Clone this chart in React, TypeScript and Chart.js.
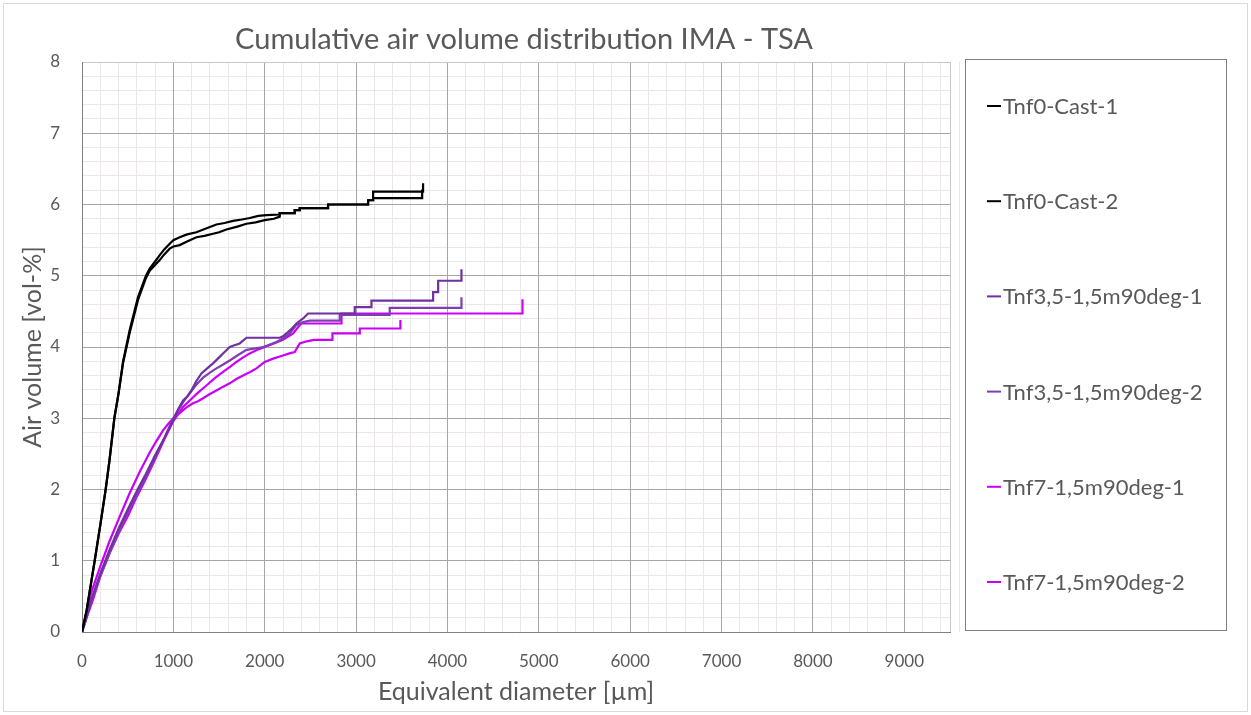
import React, { useEffect, useRef } from 'react';
import { Chart, registerables } from 'chart.js';

Chart.register(...registerables);

const FONT = 'Lato, "Open Sans", sans-serif';
const TEXT = '#595959';

const chartTitle = 'Cumulative air volume distribution IMA - TSA';
const xTitle = 'Equivalent diameter [µm]';
const yTitle = 'Air volume [vol-%]';

const seriesNames = [
  'Tnf0-Cast-1',
  'Tnf0-Cast-2',
  'Tnf3,5-1,5m90deg-1',
  'Tnf3,5-1,5m90deg-2',
  'Tnf7-1,5m90deg-1',
  'Tnf7-1,5m90deg-2',
];
const seriesColors = ['#000000', '#000000', '#7030A0', '#7E3FB0', '#CC00FF', '#C800F8'];

const cast1X = [0, 50, 139, 200, 259, 300, 354, 400, 450, 522, 613, 700, 741, 800, 851, 900, 960, 1000, 1069, 1150, 1252, 1350, 1471, 1560, 1653, 1750, 1836, 1930, 2018, 2164, 2164, 2328, 2328, 2383, 2383, 2693, 2693, 3131, 3131, 3186, 3186, 3733, 3733];
const cast1Y = [0, 0.3, 1.0, 1.5, 2.0, 2.4, 3.0, 3.35, 3.8, 4.24, 4.7, 5.0, 5.1, 5.2, 5.29, 5.37, 5.45, 5.5, 5.54, 5.58, 5.61, 5.66, 5.72, 5.74, 5.77, 5.79, 5.81, 5.84, 5.85, 5.86, 5.88, 5.88, 5.92, 5.92, 5.95, 5.95, 6.0, 6.0, 6.06, 6.06, 6.18, 6.18, 6.3];

const cast2X = [0, 50, 139, 200, 259, 300, 354, 400, 450, 522, 613, 700, 741, 800, 851, 900, 960, 1000, 1069, 1150, 1252, 1340, 1434, 1500, 1580, 1700, 1800, 1900, 2000, 2100, 2164, 2164, 2328, 2328, 2383, 2383, 2693, 2693, 3131, 3131, 3186, 3186, 3723, 3723];
const cast2Y = [0, 0.3, 1.0, 1.5, 2.0, 2.4, 3.0, 3.35, 3.78, 4.2, 4.66, 4.97, 5.07, 5.15, 5.22, 5.3, 5.38, 5.41, 5.43, 5.48, 5.54, 5.56, 5.59, 5.61, 5.65, 5.69, 5.73, 5.75, 5.78, 5.8, 5.83, 5.88, 5.88, 5.92, 5.92, 5.95, 5.95, 6.0, 6.0, 6.06, 6.06, 6.09, 6.09, 6.21];

const tnf35aX = [0, 50, 100, 200, 300, 400, 500, 600, 700, 800, 900, 1000, 1050, 1106, 1150, 1197, 1250, 1307, 1370, 1434, 1490, 1544, 1617, 1660, 1726, 1800, 2164, 2200, 2237, 2290, 2347, 2420, 2474, 2985, 2985, 3168, 3168, 3843, 3843, 3898, 3898, 4153, 4153];
const tnf35aY = [0, 0.22, 0.45, 0.82, 1.15, 1.45, 1.72, 1.98, 2.22, 2.48, 2.72, 2.98, 3.12, 3.25, 3.3, 3.39, 3.52, 3.63, 3.7, 3.77, 3.84, 3.91, 4.0, 4.02, 4.05, 4.13, 4.13, 4.15, 4.19, 4.25, 4.33, 4.4, 4.47, 4.47, 4.56, 4.56, 4.65, 4.65, 4.77, 4.77, 4.93, 4.93, 5.09];

const tnf35bX = [0, 50, 100, 200, 300, 400, 500, 600, 700, 800, 900, 1000, 1069, 1120, 1179, 1250, 1325, 1400, 1471, 1540, 1617, 1700, 1800, 1900, 1982, 2050, 2128, 2200, 2274, 2347, 2420, 2493, 2821, 2821, 3368, 3368, 4153, 4153];
const tnf35bY = [0, 0.2, 0.42, 0.78, 1.1, 1.4, 1.68, 1.93, 2.18, 2.45, 2.72, 3.0, 3.15, 3.25, 3.35, 3.47, 3.57, 3.64, 3.7, 3.75, 3.81, 3.88, 3.96, 3.98, 4.0, 4.03, 4.07, 4.12, 4.19, 4.31, 4.35, 4.37, 4.37, 4.45, 4.45, 4.55, 4.55, 4.7];

const tnf7aX = [0, 50, 120, 200, 300, 400, 500, 600, 700, 800, 900, 1000, 1100, 1179, 1270, 1362, 1450, 1544, 1620, 1690, 1760, 1836, 1920, 2000, 2100, 2200, 2311, 2360, 2401, 2840, 2840, 4821, 4821];
const tnf7aY = [0, 0.2, 0.45, 0.78, 1.1, 1.38, 1.62, 1.9, 2.15, 2.42, 2.7, 2.96, 3.15, 3.25, 3.36, 3.46, 3.56, 3.65, 3.72, 3.79, 3.85, 3.91, 3.96, 4.0, 4.05, 4.1, 4.19, 4.27, 4.33, 4.33, 4.47, 4.47, 4.67];

const tnf7bX = [0, 40, 100, 200, 300, 400, 522, 632, 741, 814, 887, 950, 1015, 1069, 1140, 1215, 1270, 1325, 1400, 1471, 1540, 1617, 1690, 1763, 1840, 1909, 2000, 2100, 2200, 2270, 2328, 2383, 2460, 2540, 2741, 2741, 3040, 3040, 3485, 3485];
const tnf7bY = [0, 0.22, 0.55, 0.92, 1.27, 1.58, 1.95, 2.25, 2.52, 2.68, 2.83, 2.93, 3.02, 3.07, 3.15, 3.21, 3.24, 3.28, 3.34, 3.39, 3.44, 3.49, 3.55, 3.6, 3.65, 3.7, 3.79, 3.84, 3.88, 3.91, 3.93, 4.05, 4.08, 4.1, 4.1, 4.19, 4.19, 4.26, 4.26, 4.38];

const seriesX = [cast1X, cast2X, tnf35aX, tnf35bX, tnf7aX, tnf7bX];
const seriesY = [cast1Y, cast2Y, tnf35aY, tnf35bY, tnf7aY, tnf7bY];

const xTickValues = [0, 1000, 2000, 3000, 4000, 5000, 6000, 7000, 8000, 9000];
const yTickValues = [0, 1, 2, 3, 4, 5, 6, 7, 8];
const xMin = 0;
const xMax = 9500;
const yMin = 0;
const yMax = 8;
const xMinorStep = 200;
const yMinorStep = 0.2;

const W = 1251;
const H = 715;

function minorTicks(min: number, max: number, step: number) {
  const out: { value: number }[] = [];
  const n = Math.round((max - min) / step);
  for (let i = 0; i <= n; i++) out.push({ value: +(min + i * step).toFixed(6) });
  return out;
}

const decorPlugin = {
  id: 'decor',
  afterDraw(chart: any) {
    const ctx = chart.ctx;
    ctx.save();
    ctx.strokeStyle = '#d9d9d9';
    ctx.lineWidth = 1;
    ctx.strokeRect(3.5, 3.5, W - 7, H - 7);
    ctx.fillStyle = TEXT;
    ctx.font = `29px ${FONT}`;
    ctx.textAlign = 'center';
    ctx.textBaseline = 'middle';
    ctx.fillText(chartTitle, 524, 40);
    const lx = 965.5, ly = 59.5, lw = 261, lh = 571;
    ctx.strokeStyle = '#7f7f7f';
    ctx.lineWidth = 1;
    ctx.strokeRect(lx, ly, lw, lh);
    ctx.font = `22px ${FONT}`;
    ctx.textAlign = 'left';
    chart.data.datasets.forEach((ds: any, i: number) => {
      const y = 106 + i * 95.2;
      ctx.strokeStyle = ds.borderColor;
      ctx.lineWidth = 2;
      ctx.beginPath();
      ctx.moveTo(987, y);
      ctx.lineTo(1001, y);
      ctx.stroke();
      ctx.fillStyle = TEXT;
      ctx.fillText(ds.label, 1003, y + 1);
    });
    ctx.restore();
  },
};

export default function App() {
  const ref = useRef<HTMLCanvasElement>(null);
  useEffect(() => {
    if (!ref.current) return;
    const datasets = seriesNames.map((name, i) => ({
      label: name,
      data: seriesX[i].map((x, j) => ({ x, y: seriesY[i][j] })),
      borderColor: seriesColors[i],
      backgroundColor: seriesColors[i],
      borderWidth: 2.2,
      pointRadius: 0,
      tension: 0,
      fill: false,
    }));
    const tickFont = { family: FONT, size: 17 };
    const isMajorX = (v: number) => xTickValues.includes(v) || v === xMax;
    const isMajorY = (v: number) => yTickValues.some((t) => Math.abs(t - v) < 1e-6);
    const chart = new Chart(ref.current, {
      type: 'line',
      data: { datasets },
      plugins: [decorPlugin],
      options: {
        animation: false,
        responsive: false,
        events: [],
        layout: { padding: { left: 0, top: 62, right: W - 950, bottom: 0 } },
        plugins: { legend: { display: false }, tooltip: { enabled: false }, title: { display: false } },
        scales: {
          xMinor: {
            type: 'linear', position: 'bottom', min: xMin, max: xMax, z: -1,
            afterBuildTicks: (s: any) => { s.ticks = minorTicks(xMin, xMax, xMinorStep); },
            ticks: { display: false },
            grid: {
              drawTicks: false,
              color: (c: any) => (isMajorX(c.tick.value) ? 'rgba(0,0,0,0)' : '#ece6e6'),
            },
            border: { display: false },
            afterFit: (s: any) => { s.height = 0; },
          },
          yMinor: {
            type: 'linear', position: 'left', min: yMin, max: yMax, z: -1,
            afterBuildTicks: (s: any) => { s.ticks = minorTicks(yMin, yMax, yMinorStep); },
            ticks: { display: false },
            grid: {
              drawTicks: false,
              color: (c: any) => (isMajorY(c.tick.value) ? 'rgba(0,0,0,0)' : '#ece6e6'),
            },
            border: { display: false },
            afterFit: (s: any) => { s.width = 0; },
          },
          x: {
            type: 'linear', position: 'bottom', min: xMin, max: xMax,
            afterBuildTicks: (s: any) => { s.ticks = [...xTickValues, xMax].map((value) => ({ value })); },
            ticks: {
              font: tickFont, color: TEXT, padding: 19, maxRotation: 0, autoSkip: false,
              callback: (v: any) => (xTickValues.includes(v) ? String(v) : ''),
            },
            grid: {
              drawTicks: false,
              color: (c: any) => (c.tick.value === xMax ? '#c8c8c8' : '#a6a6a6'),
            },
            border: { color: '#808080', width: 1 },
            title: { display: true, text: xTitle, color: TEXT, font: { family: FONT, size: 25 }, padding: { top: 0, bottom: 8 } },
            afterFit: (s: any) => { s.height = H - 632; },
          },
          y: {
            type: 'linear', position: 'left', min: yMin, max: yMax,
            afterBuildTicks: (s: any) => { s.ticks = yTickValues.map((value) => ({ value })); },
            ticks: { font: tickFont, color: TEXT, padding: 22 },
            grid: {
              drawTicks: false,
              color: (c: any) => (c.tick.value === yMax ? '#c8c8c8' : '#a6a6a6'),
            },
            border: { color: '#808080', width: 1 },
            title: { display: true, text: yTitle, color: TEXT, font: { family: FONT, size: 25 }, padding: { top: 18, bottom: 0 } },
            afterFit: (s: any) => { s.width = 82; },
          },
        },
      } as any,
    });
    return () => chart.destroy();
  }, []);
  return (
    <div style={{ position: 'absolute', left: 0, top: 0, width: W, height: H, background: '#fff' }}>
      <canvas ref={ref} width={W} height={H} style={{ display: 'block' }} />
    </div>
  );
}
